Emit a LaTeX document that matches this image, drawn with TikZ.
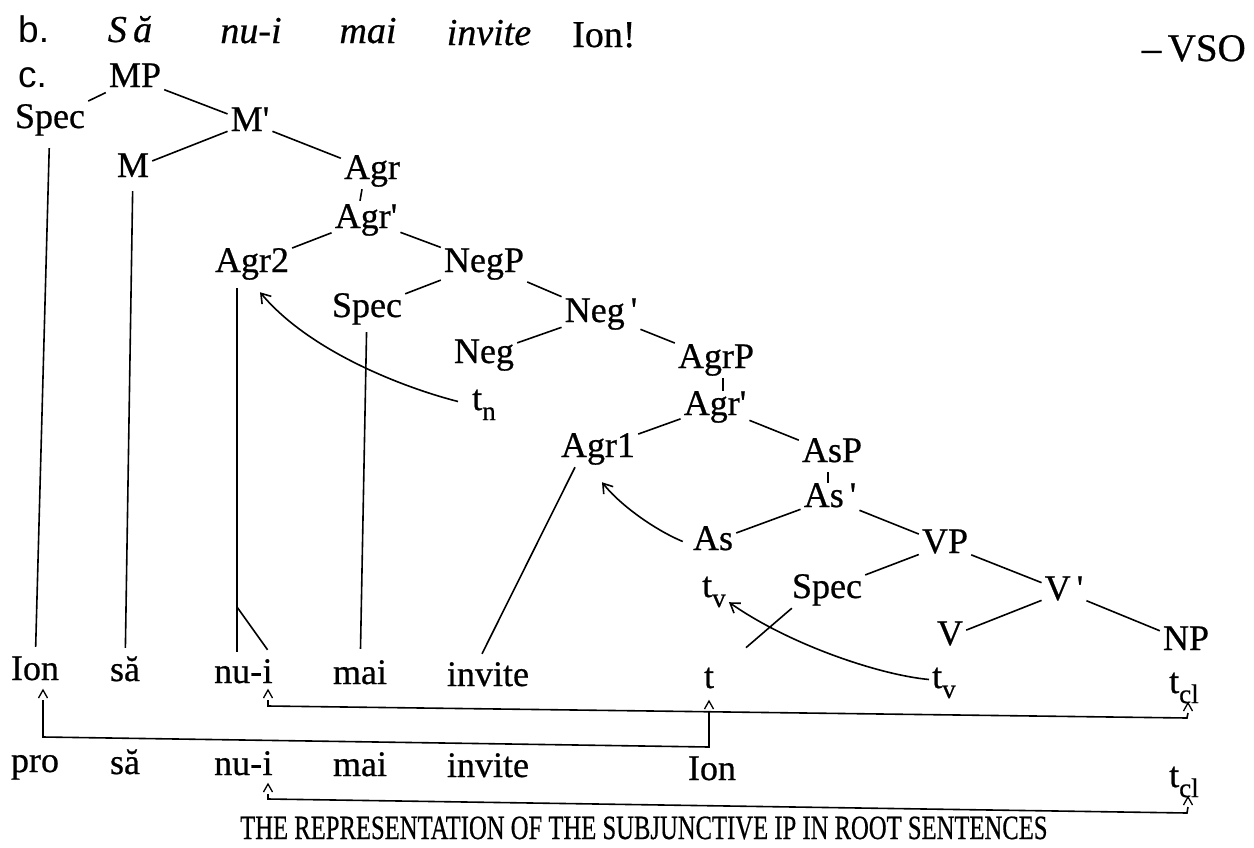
\documentclass[tikz,border=0pt]{standalone}
\usepackage{fontspec}
\setmainfont{Liberation Serif}[FakeBold=0.6]
\newfontfamily\hvfont{Liberation Sans}
\usepackage{graphicx}
\usetikzlibrary{arrows.meta}
\newcommand\sbs[1]{\raisebox{-0.28em}{\fontsize{27}{29}\selectfont #1}}
\newcommand\pq{\textquotesingle}
\begin{document}
\begin{tikzpicture}[x=1pt,y=-1pt,
  lab/.style={anchor=base,inner sep=3pt,font=\fontsize{36}{40}\selectfont,text height=24pt,text depth=7pt},
  hdr/.style={anchor=base,inner sep=0pt,font=\fontsize{38}{42}\selectfont\itshape},
  edge/.style={line width=1.6pt},
  mv/.style={line width=1.6pt,-{Straight Barb[length=9pt,width=12pt,line width=1.6pt]}},
  crt/.style={line width=1.3pt},
  brk/.style={line width=1.6pt}]
\fill[white] (0,0) rectangle (1254,847);
\useasboundingbox (0,0) rectangle (1254,847);
% header
\node[anchor=base west,inner sep=0pt,font=\hvfont\fontsize{37}{40}\selectfont] (b) at (18,42) {b.};
\node[hdr] (h1) at (130,42) {S\,ă};
\node[hdr] (h2) at (251,43) {nu-i};
\node[hdr] (h3) at (368,43) {mai};
\node[hdr] (h4) at (489,45) {invite};
\node[hdr,anchor=base west,font=\fontsize{38}{42}\selectfont\upshape] (h5) at (572,47) {Ion!};
\node[anchor=base east,inner sep=0pt,font=\fontsize{39}{42}\selectfont] (vso) at (1246,61) {–\,VSO};
\node[anchor=base west,inner sep=0pt,font=\hvfont\fontsize{37}{40}\selectfont] (c) at (18,87) {c.};
% tree
\node[lab] (MP) at (135,87) {MP};
\node[lab] (SpecM) at (50,128) {Spec};
\node[lab] (Mbar) at (250,131) {M\pq};
\node[lab] (M) at (133,177) {M};
\node[lab] (AgrT) at (372,179) {Agr};
\node[lab] (AgrbT) at (366,228) {Agr\pq};
\node[lab] (Agr2) at (252,272) {Agr2};
\node[lab] (NegP) at (484,272) {NegP};
\node[lab] (SpecN) at (367,317) {Spec};
\node[lab] (Negb) at (601,322) {Neg\,\pq};
\node[lab] (Neg) at (484,363) {Neg};
\node[lab,anchor=base west] (tn) at (469,410) {t\sbs{n}};
\node[lab] (AgrP) at (716,368) {AgrP};
\node[lab] (AgrbB) at (715,415) {Agr\pq};
\node[lab] (Agr1) at (598,457) {Agr1};
\node[lab] (AsP) at (832,462) {AsP};
\node[lab] (Asb) at (830,507) {As\,\pq};
\node[lab] (As) at (713,550) {As};
\node[lab] (VP) at (945,553) {VP};
\node[lab,anchor=base west] (tvup) at (699,597) {t\sbs{v}};
\node[lab] (SpecV) at (827,598) {Spec};
\node[lab] (Vb) at (1064,600) {V\,\pq};
\node[lab] (V) at (950,645) {V};
\node[lab] (NP) at (1186,650) {NP};
% row 1
\node[lab] (Ion1) at (35,680) {Ion};
\node[lab] (sa1) at (125,681) {să};
\node[lab,anchor=base west] (nu1) at (211,683) {nu-};
\node[lab,anchor=base west] (i1) at ([xshift=-6pt]nu1.base east) {i};
\node[lab] (mai1) at (360,684) {mai};
\node[lab] (inv1) at (488,686) {invite};
\node[lab] (t1) at (709,688) {t};
\node[lab,anchor=base west] (tv1) at (929,688) {t\sbs{v}};
\node[lab,anchor=base west] (tcl1) at (1166,693) {t\sbs{cl}};
% row 2
\node[lab] (pro) at (35,772) {pro};
\node[lab] (sa2) at (125,774) {să};
\node[lab,anchor=base west] (nu2) at (211,775) {nu-};
\node[lab,anchor=base west] (i2) at ([xshift=-6pt]nu2.base east) {i};
\node[lab] (mai2) at (360,776) {mai};
\node[lab] (inv2) at (488,777) {invite};
\node[lab] (Ion2) at (712,780) {Ion};
\node[lab,anchor=base west] (tcl2) at (1166,787) {t\sbs{cl}};
% caption
\node[anchor=base west,inner sep=0pt] (cap) at (240,839) {\fontsize{34}{36}\selectfont\scalebox{0.725}[1]{THE REPRESENTATION OF THE SUBJUNCTIVE IP IN ROOT SENTENCES}};
% tree edges
\draw[edge] (MP) -- (SpecM);
\draw[edge] (MP) -- (Mbar);
\draw[edge] (Mbar) -- (M);
\draw[edge] (Mbar) -- (AgrT);
\draw[edge] ([xshift=-10pt]AgrT.south) -- ([xshift=-6pt]AgrbT.north);
\draw[edge] (AgrbT) -- (Agr2);
\draw[edge] (AgrbT) -- (NegP);
\draw[edge] (NegP) -- (SpecN);
\draw[edge] (NegP) -- (Negb);
\draw[edge] (Negb) -- (Neg);
\draw[edge] (Negb) -- (AgrP);
\draw[edge] ([xshift=7pt]AgrP.south) -- ([xshift=8pt,yshift=-3pt]AgrbB.north);
\draw[edge] (AgrbB) -- (Agr1);
\draw[edge] (AgrbB) -- (AsP);
\draw[edge] ([xshift=-4pt]AsP.south) -- ([xshift=-2pt,yshift=-3pt]Asb.north);
\draw[edge] (Asb) -- (As);
\draw[edge] (Asb) -- (VP);
\draw[edge] (VP) -- (SpecV);
\draw[edge] (VP) -- (Vb);
\draw[edge] (Vb) -- (V);
\draw[edge] (Vb) -- (NP);
% lines to words
\draw[edge,shorten <=10pt,shorten >=6pt] (SpecM) -- (Ion1);
\draw[edge,shorten <=4pt,shorten >=6pt] (M) -- (sa1);
\coordinate (split1) at (237,607);
\draw[edge] ([yshift=-6pt]Agr2.south -| split1) -- (split1) -- ([yshift=4pt]split1 |- nu1.north);
\draw[edge] (split1) -- ([yshift=6pt]i1.north);
\draw[edge,shorten <=5pt,shorten >=8pt] (SpecN) -- (mai1);
\draw[edge] ([xshift=-23pt]Agr1.south) -- ([xshift=-6pt,yshift=5pt]inv1.north);
\draw[edge,shorten >=38pt] ([xshift=3pt]SpecV.south west) -- (t1);
% movement arrows
\draw[mv] ([xshift=-11pt]tn.west) .. controls (405,388) and (310,352) .. ([xshift=8pt,yshift=-10pt]Agr2.south);
\draw[mv] ([xshift=-7pt]As.west) .. controls (655,530) and (620,505) .. ([xshift=4pt,yshift=-15pt]Agr1.south);
\draw[mv] (tv1.west) .. controls (880,675) and (790,645) .. ([yshift=5pt]tvup.south east);
% carets
\newcommand\caretat[1]{\draw[crt] ([xshift=-4.5pt,yshift=-8pt]#1) -- (#1) -- ([xshift=4.5pt,yshift=-8pt]#1);}
\coordinate (kIon) at (43,690);
\coordinate (ki1) at (268,690);
\coordinate (kt1) at (709,701);
\coordinate (kcl1) at (1188,703);
\coordinate (ki2) at (268,784);
\coordinate (kcl2) at (1188,797);
\caretat{kIon}\caretat{ki1}\caretat{kt1}\caretat{kcl1}\caretat{ki2}\caretat{kcl2}
% brackets
\draw[brk] ([yshift=-10pt]ki1) -- (268,706) -- (1187,718) -- ([yshift=-10pt]kcl1);
\draw[brk] ([yshift=-10pt]kIon) -- (43,737) -- (709,747) -- ([yshift=-10pt]kt1);
\draw[brk] ([yshift=-10pt]ki2) -- (268,799) -- (1187,813) -- ([yshift=-10pt]kcl2);
\end{tikzpicture}
\end{document}
